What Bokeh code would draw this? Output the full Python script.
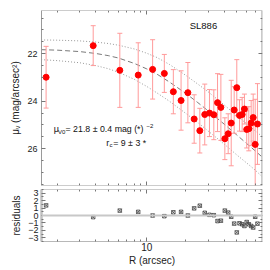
from bokeh.plotting import figure
from bokeh.layouts import column
from bokeh.models import (Range1d, LinearAxis, LogAxis, FixedTicker,
                          Label, Span, ColumnDataSource, PrintfTickFormatter)
from bokeh.embed import file_html
from bokeh.resources import INLINE

# ---- data ----
R = [1.64, 3.82, 6.16, 8.57, 11.1, 13.7, 16.1, 18.5, 20.9, 23.4, 25.9, 28.3, 30.8, 33.3, 35.6,
     37.8, 40.6, 43.1, 45.5, 48.0, 50.3, 52.8, 55.4, 57.7, 60.1, 62.4, 65.1, 67.5, 70.0, 72.9]
mu = [22.99, 21.66, 22.70, 22.90, 22.66, 22.83, 23.60, 23.97, 23.64, 24.75, 25.24, 24.56, 24.50,
      24.57, 24.06, 24.26, 25.58, 25.37, 24.92, 24.37, 23.43, 24.60, 24.56, 24.33, 25.19, 25.16,
      24.92, 24.69, 25.82, 24.96]
mu_err = [1.30, 0.84, 1.56, 1.36, 1.25, 0.80, 0.93, 1.25, 1.27, 1.02, 0.94, 1.28, 0.99, 1.05, 1.22,
          1.39, 0.88, 0.84, 1.80, 0.98, 1.18, 0.66, 0.72, 0.63, 0.78, 0.93, 0.95, 0.99, 1.90, 1.70]
resid = [1.36, -0.22, 0.66, 0.49, 0.0, -0.09, 0.43, 0.49, 0.0, 0.96, 1.32, 0.36, 0.09, 0.04, -0.75,
         -0.70, 0.66, 0.39, -0.17, -1.09, -2.28, -1.05, -1.18, -1.41, -0.88, -1.18, -1.41, -1.62,
         -0.17, -1.10]

curve_R = [1.5, 2, 3, 4, 5, 6, 8, 10, 12, 15, 20, 25, 30, 40, 50, 60, 70, 80]
model_mid = [21.83, 21.85, 21.91, 21.99, 22.08, 22.18, 22.41, 22.64, 22.86, 23.19, 23.66, 24.06,
             24.40, 24.96, 25.41, 25.78, 26.09, 26.37]
model_up = [21.42, 21.43, 21.46, 21.51, 21.57, 21.64, 21.80, 21.98, 22.16, 22.45, 22.90, 23.28,
            23.60, 24.15, 24.60, 24.95, 25.25, 25.50]
model_lo = [22.25, 22.29, 22.38, 22.50, 22.63, 22.78, 23.08, 23.38, 23.65, 24.00, 24.50, 24.90,
            25.25, 25.80, 26.25, 26.60, 26.90, 27.20]

x_major = [10]
x_minor = [2, 3, 4, 5, 6, 7, 8, 9, 20, 30, 40, 50, 60, 70]
y_ticks = [22, 24, 26]
y_minor = [20.5, 21, 21.5, 22.5, 23, 23.5, 24.5, 25, 25.5, 26.5, 27, 27.5]
res_ticks = [-3, -2, -1, 0, 1, 2, 3]
res_minor = [-3.5, -2.5, -1.5, -0.5, 0.5, 1.5, 2.5, 3.5]

X_LO, X_HI = 1.51, 79.8
Y_BOTTOM, Y_TOP = 27.55, 20.18
RES_LO, RES_HI = -3.5, 3.5

FONT = "Liberation Sans"
FRAME = "#9a9a9a"

x_range = Range1d(X_LO, X_HI)


def style_axis(ax, labels=True, width=1, color=FRAME):
    ax.axis_line_color = color
    ax.axis_line_width = width
    ax.major_tick_in = 4
    ax.major_tick_out = 0
    ax.minor_tick_in = 2
    ax.minor_tick_out = 0
    ax.major_tick_line_color = "#777777"
    ax.minor_tick_line_color = "#777777"
    if labels:
        ax.major_label_text_font = FONT
        ax.major_label_text_font_size = "9px"
        ax.major_label_text_color = "#222222"
    else:
        ax.major_label_text_font_size = "1px"
        ax.major_label_text_alpha = 0
        ax.major_label_standoff = 0
    ax.axis_label_text_font = FONT
    ax.axis_label_text_font_style = "normal"
    ax.axis_label_text_font_size = "10px"
    ax.axis_label_text_color = "#222222"


# ---- main panel ----
p = figure(width=264, height=187, x_axis_type="log", x_range=x_range,
           y_range=Range1d(Y_BOTTOM, Y_TOP), output_backend="svg", toolbar_location=None,
           x_axis_location=None, y_axis_location=None,
           min_border_left=41, min_border_right=2, min_border_top=10, min_border_bottom=2)
p.grid.visible = False
p.outline_line_color = None

xt = FixedTicker(ticks=x_major, minor_ticks=x_minor)
yt = FixedTicker(ticks=y_ticks, minor_ticks=y_minor)
ax_b = LogAxis(ticker=xt, fixed_location=Y_BOTTOM)
style_axis(ax_b, labels=False)
p.add_layout(ax_b, "below")
ax_t = LogAxis(ticker=xt, fixed_location=Y_TOP)
style_axis(ax_t, labels=False)
p.add_layout(ax_t, "above")
ly = LinearAxis(ticker=yt, axis_label="μᵥ (mag/arcsec²)", major_label_standoff=4,
                axis_label_standoff=3)
style_axis(ly)
p.add_layout(ly, "left")
ry = LinearAxis(ticker=yt, fixed_location=X_HI)
style_axis(ry, labels=False, width=2.5, color="#b8b8b8")
p.add_layout(ry, "right")

# model curves
p.line(curve_R, model_up, line_color="#999999", line_dash="1 2", line_width=1)
p.line(curve_R, model_lo, line_color="#999999", line_dash="1 2", line_width=1)
p.line(curve_R, model_mid, line_color="#7a7a7a", line_dash="5 3", line_width=1)

lo = [m + e for m, e in zip(mu, mu_err)]
hi = [m - e for m, e in zip(mu, mu_err)]
src = ColumnDataSource(dict(R=R, mu=mu, lo=lo, hi=hi))
p.segment(x0="R", y0="lo", x1="R", y1="hi", source=src, line_color="#ff9a9a", line_width=1)
p.scatter(x="R", y="lo", source=src, marker="dash", size=5, line_color="#ff9a9a")
p.scatter(x="R", y="hi", source=src, marker="dash", size=5, line_color="#ff9a9a")
p.scatter(x="R", y="mu", source=src, marker="circle", size=6, fill_color="#ff0000",
          line_color="#ff0000")


def lab(fig, text, x, y, size="9px", align="left"):
    fig.add_layout(Label(x=x, y=y, text=text,
                         text_font=FONT, text_font_size=size, text_color="#111111",
                         text_baseline="middle", text_align=align))


lab(p, "SL886", 21.6, 20.81, size="9.5px")
lab(p, "μ", 1.884, 25.19)
lab(p, "V0", 2.03, 25.30, size="6px")
lab(p, "= 21.8 ± 0.4 mag (*)", 2.325, 25.19, size="8.8px")
lab(p, "−2", 9.95, 25.05, size="6px")
lab(p, "r", 4.83, 25.76)
lab(p, "c", 5.12, 25.86, size="6px")
lab(p, "= 9 ± 3 *", 5.47, 25.76, size="8.8px")

# ---- residual panel ----
r = figure(width=264, height=81, x_axis_type="log", x_range=x_range,
           y_range=Range1d(RES_LO, RES_HI), output_backend="svg", toolbar_location=None,
           x_axis_location=None, y_axis_location=None,
           min_border_left=41, min_border_right=2, min_border_top=2, min_border_bottom=27)
r.grid.visible = False
r.outline_line_color = None

bx = LogAxis(ticker=xt, formatter=PrintfTickFormatter(format="%d"), axis_label="R (arcsec)",
             major_label_standoff=1, axis_label_standoff=1)
style_axis(bx, color="#b8b8b8")
bx.major_label_text_font_size = "10px"
r.add_layout(bx, "below")
rax_t = LogAxis(ticker=xt, fixed_location=RES_HI)
style_axis(rax_t, labels=False)
r.add_layout(rax_t, "above")

rt = FixedTicker(ticks=res_ticks, minor_ticks=res_minor)
rl = LinearAxis(ticker=rt, axis_label="residuals", major_label_standoff=3, axis_label_standoff=3)
style_axis(rl, width=2.5, color="#c0c0c0")
r.add_layout(rl, "left")
rr = LinearAxis(ticker=rt, fixed_location=X_HI)
style_axis(rr, labels=False, width=2.5, color="#c0c0c0")
r.add_layout(rr, "right")

r.add_layout(Span(location=0, dimension="width", line_color="#c8c8c8", line_width=2))
r.scatter(R, resid, marker="square_x", size=3.5, line_color="#444444", fill_color=None,
          line_width=0.8)

lay = column(p, r, spacing=0)
open("out.html", "w").write(file_html(lay, INLINE))
